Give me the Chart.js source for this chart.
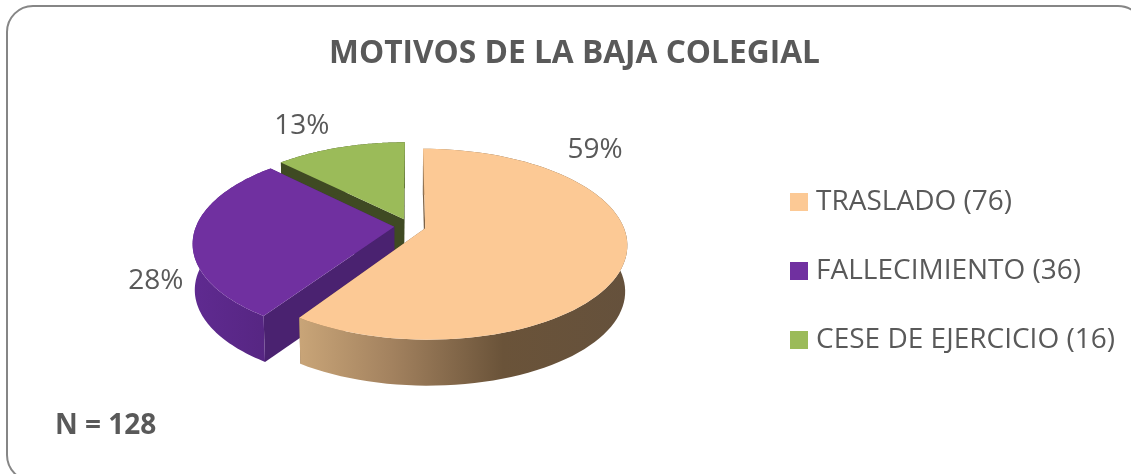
<!DOCTYPE html>
<html><head><meta charset="utf-8">
<style>html,body{margin:0;padding:0;background:#fff}#w{position:relative;width:1131px;height:474px}</style>
<script src="https://cdn.jsdelivr.net/npm/chart.js@4"></script>
</head><body><div id="w"><canvas id="c" width="1131" height="474"></canvas></div>
<script>
const categories = ['TRASLADO', 'FALLECIMIENTO', 'CESE DE EJERCICIO'];
const counts = [76, 36, 16];
const percentLabels = ['59%', '28%', '13%'];
const titleText = 'MOTIVOS DE LA BAJA COLEGIAL';
const noteText = 'N = 128';
const topColors = ['#FCC995', '#7030A0', '#9BBB59'];
const faceColors = ['#7D6347', '#4A2270', '#3F4A23'];
const FONT = '"Open Sans", sans-serif', INK = '#595959';

// 3D projection of the pie (tilted disc seen in perspective)
const view = {cx: 410, cy: 226, rx: 198, ry: 92, k: 0.168, explode: 0.08, depth: 46, taper: 0.99};
const labelNudge = [[-31, -106], [-37.5, 45], [-38, -21]];

function project(u, v, low) {
  const w = 1 - view.k * v;
  const x = view.rx * u / w, y = view.ry * v / w;
  return low ? [view.cx + x * view.taper, view.cy + y + view.depth] : [view.cx + x, view.cy + y];
}
function slicePts(arc) {
  const mid = (arc.startAngle + arc.endAngle) / 2;
  const ox = view.explode * Math.cos(mid), oy = view.explode * Math.sin(mid);
  const n = 90, rim = [];
  for (let i = 0; i <= n; i++) {
    const a = arc.startAngle + (arc.endAngle - arc.startAngle) * i / n;
    rim.push([ox + Math.cos(a), oy + Math.sin(a)]);
  }
  return {apex: [ox, oy], rim};
}
function poly(ctx, pts, fill) {
  ctx.beginPath();
  pts.forEach((p, i) => i ? ctx.lineTo(p[0], p[1]) : ctx.moveTo(p[0], p[1]));
  ctx.closePath();
  ctx.fillStyle = fill; ctx.fill();
}
function wallFill(ctx, i) {
  const g = ctx.createLinearGradient(i === 0 ? 299 : 195, 0, i === 0 ? 628 : 300, 0);
  if (i === 0) {
    g.addColorStop(0, '#C9A578'); g.addColorStop(0.28, '#A3825F');
    g.addColorStop(0.62, '#6A5339'); g.addColorStop(1, '#65513C');
  } else if (i === 1) {
    g.addColorStop(0, '#5F2A90'); g.addColorStop(1, '#52247C');
  } else return '#3F4A23';
  return g;
}
const pie3d = {
  id: 'pie3d',
  beforeDraw(chart) {
    const ctx = chart.ctx;
    ctx.save();
    ctx.strokeStyle = '#868686'; ctx.lineWidth = 2;
    ctx.beginPath(); ctx.roundRect(7, 6, 1137, 475, 26); ctx.stroke();
    ctx.restore();
  },
  beforeDatasetDraw(chart, args) {
    const ctx = chart.ctx, arcs = args.meta.data;
    ctx.save();
    [2, 1, 0].forEach(i => {
      const s = slicePts(arcs[i]);
      const a0 = project(s.apex[0], s.apex[1]), a1 = project(s.apex[0], s.apex[1], true);
      const first = s.rim[0], last = s.rim[s.rim.length - 1];
      poly(ctx, [a0, project(last[0], last[1]), project(last[0], last[1], true), a1], faceColors[i]);
      poly(ctx, [a0, project(first[0], first[1]), project(first[0], first[1], true), a1], faceColors[i]);
      const top = s.rim.map(p => project(p[0], p[1]));
      const low = s.rim.map(p => project(p[0], p[1], true)).reverse();
      poly(ctx, top.concat(low), wallFill(ctx, i));
      poly(ctx, [a0].concat(top), topColors[i]);
    });
    ctx.font = '28px ' + FONT; ctx.fillStyle = INK;
    ctx.textAlign = 'center'; ctx.textBaseline = 'middle';
    arcs.forEach((arc, i) => {
      const s = slicePts(arc), m = s.rim[45], p = project(m[0], m[1]);
      ctx.fillText(percentLabels[i], p[0] + labelNudge[i][0], p[1] + labelNudge[i][1]);
    });
    ctx.font = 'bold 28px ' + FONT; ctx.textAlign = 'left';
    ctx.fillText(noteText, 55, 426);
    ctx.restore();
    return false;
  }
};
const swatches = topColors.map(col => {
  const c = document.createElement('canvas'); c.width = c.height = 18;
  const x = c.getContext('2d'); x.fillStyle = col; x.fillRect(0, 0, 18, 18);
  return c;
});
new Chart(document.getElementById('c'), {
  type: 'pie',
  data: {
    labels: categories.map((c, i) => c + ' (' + counts[i] + ')'),
    datasets: [{data: counts, backgroundColor: topColors, borderWidth: 0}]
  },
  plugins: [pie3d],
  options: {
    responsive: false, animation: false,
    layout: {padding: {left: 24, right: 6, top: 0, bottom: 5}},
    plugins: {
      tooltip: {enabled: false},
      title: {display: true, text: titleText, color: INK,
        font: {family: FONT, size: 31.7, weight: 'bold'}, padding: {top: 35, bottom: 0}},
      legend: {position: 'right', fullSize: false, labels: {
        color: INK, font: {family: FONT, size: 28}, padding: 41,
        usePointStyle: true, pointStyleWidth: 6,
        generateLabels(chart) {
          return Chart.overrides.pie.plugins.legend.labels.generateLabels(chart)
            .map((it, i) => Object.assign(it, {pointStyle: swatches[i]}));
        }
      }}
    }
  }
});
</script></body></html>
